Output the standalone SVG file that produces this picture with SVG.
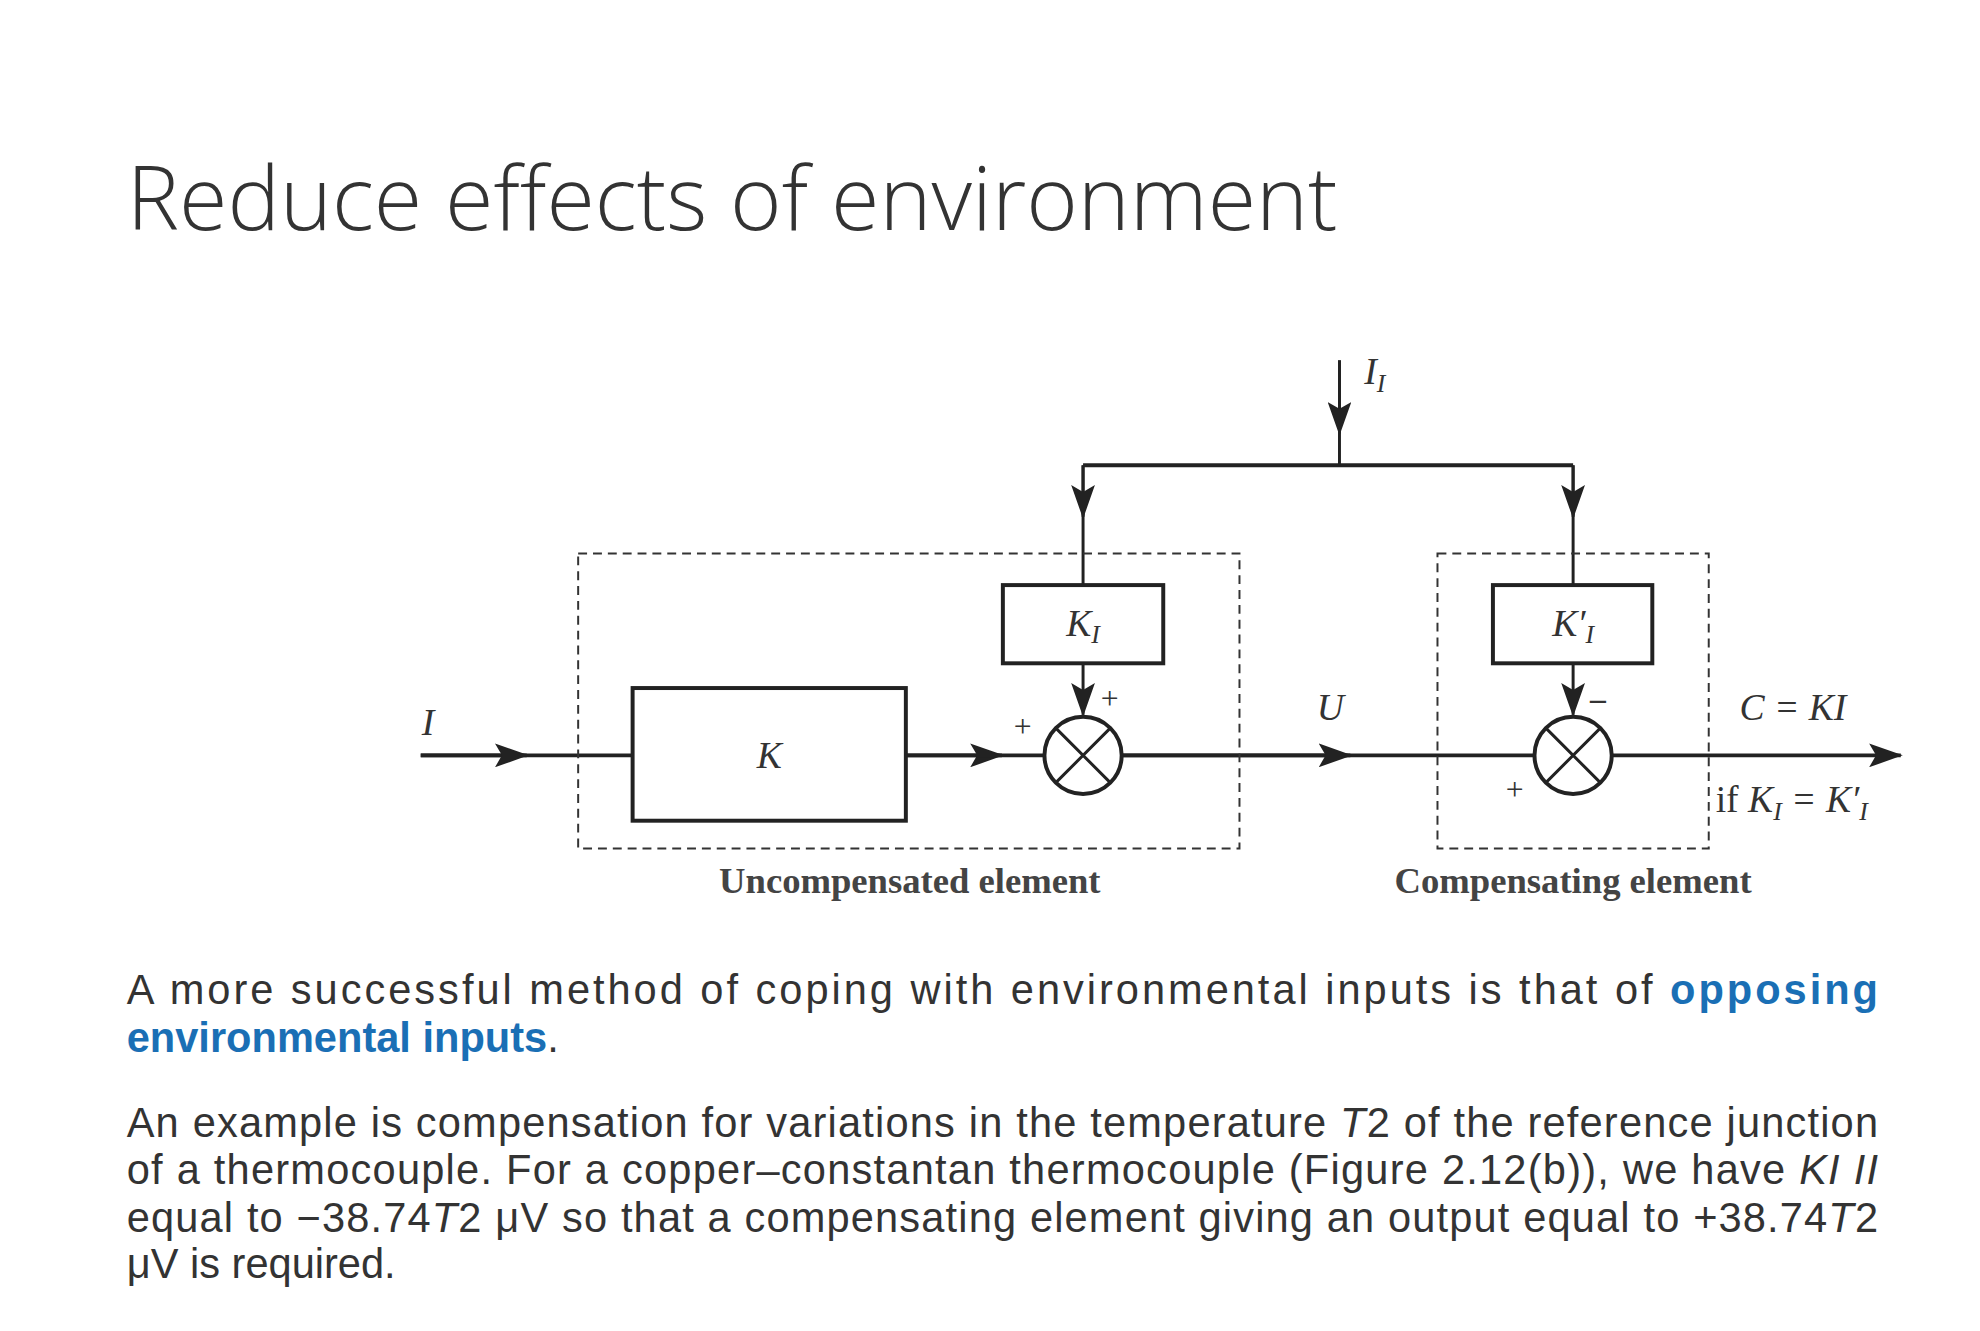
<svg xmlns="http://www.w3.org/2000/svg" width="1980" height="1331" viewBox="0 0 1980 1331">
<style>
.ln{stroke:#222;stroke-width:4;fill:none}
.th{stroke:#222;stroke-width:3;fill:none}
.box{stroke:#222;stroke-width:4;fill:#fff}
.dash{stroke:#333;stroke-width:2;fill:none;stroke-dasharray:9 6}
.it{font-family:"Liberation Serif",serif;font-style:italic;font-size:38px;fill:#333}
.sg{font-family:"Liberation Serif",serif;font-size:32px;fill:#333}
.cap{font-family:"Liberation Serif",serif;font-weight:bold;font-size:37px;fill:#444}
.p{font-family:"Liberation Sans",Arial,sans-serif;font-size:42px;fill:#333}
</style>
<defs>
<marker id="ab" markerWidth="34" markerHeight="24" refX="32" refY="12" orient="auto" markerUnits="userSpaceOnUse" viewBox="0 0 34 24"><path d="M0,0 L34,12 L0,24 L7,12 Z" fill="#222"/></marker>
</defs>
<rect width="1980" height="1331" fill="#fff"/>
<g transform="scale(0.99)">
<text x="128" y="232" font-family="Open Sans, sans-serif" font-weight="300" font-size="89" fill="#333">Reduce effects of environment</text>

<g id="connectors">
<path class="ln" d="M425,763 H639"/>
<path class="ln" d="M425,763 H532" marker-end="url(#ab)"/>
<path class="ln" d="M915,763 H1012" marker-end="url(#ab)"/>
<path class="ln" d="M915,763 H1054"/>
<path class="ln" d="M1134,763 H1549"/>
<path class="ln" d="M1134,763 H1364" marker-end="url(#ab)"/>
<path class="ln" d="M1629,763 H1920" marker-end="url(#ab)"/>
<path class="ln" d="M1094,470 H1589"/>
<path class="th" d="M1353,364 V470"/>
<path class="th" d="M1353,364 V438" marker-end="url(#ab)"/>
<path class="th" d="M1094,470 V591"/>
<path class="th" d="M1094,470 V522" marker-end="url(#ab)"/>
<path class="th" d="M1589,470 V591"/>
<path class="th" d="M1589,470 V522" marker-end="url(#ab)"/>
<path class="th" d="M1094,670 V722" marker-end="url(#ab)"/>
<path class="th" d="M1589,670 V722" marker-end="url(#ab)"/>
</g>

<g id="uncompensated"><rect class="dash" x="584" y="559" width="668" height="298"/><text class="cap" x="919" y="902" text-anchor="middle">Uncompensated element</text></g>
<g id="compensating"><rect class="dash" x="1452" y="559" width="274" height="298"/><text class="cap" x="1589" y="902" text-anchor="middle">Compensating element</text></g>

<g id="K"><rect class="box" x="639" y="695" width="276" height="134"/><text class="it" x="777" y="776" text-anchor="middle">K</text></g>
<g id="KI"><rect class="box" x="1013" y="591" width="162" height="79"/><text class="it" x="1094" y="642" text-anchor="middle">K<tspan font-size="26" dy="8">I</tspan></text></g>
<g id="KI2"><rect class="box" x="1508" y="591" width="161" height="79"/><text class="it" x="1589" y="642" text-anchor="middle">K′<tspan font-size="26" dy="8">I</tspan></text></g>
<g id="sum1"><circle class="box" cx="1094" cy="763" r="39"/><path class="th" d="M1066,735 L1122,791 M1122,735 L1066,791"/></g>
<g id="sum2"><circle class="box" cx="1589" cy="763" r="39"/><path class="th" d="M1561,735 L1617,791 M1617,735 L1561,791"/></g>

<g id="labels">
<text class="it" x="426" y="742">I</text>
<text class="it" x="1378" y="388">I<tspan font-size="26" dy="8">I</tspan></text>
<text class="it" x="1330" y="727">U</text>
<text class="sg" x="1112" y="716">+</text>
<text class="sg" x="1024" y="744">+</text>
<text class="sg" x="1606" y="716" font-weight="bold">–</text>
<text class="sg" x="1521" y="808">+</text>
<text class="it" x="1757" y="727">C = KI</text>
<text class="it" x="1733" y="820"><tspan font-style="normal">if</tspan> K<tspan font-size="26" dy="8">I</tspan><tspan dy="-8"> = K′</tspan><tspan font-size="26" dy="8">I</tspan></text>
</g>

<g id="text">
<text class="p" x="128" y="1014" textLength="1769" lengthAdjust="spacing">A more successful method of coping with environmental inputs is that of <tspan font-weight="bold" fill="#1a6fb5">opposing</tspan></text>
<text class="p" x="128" y="1063"><tspan font-weight="bold" fill="#1a6fb5">environmental inputs</tspan>.</text>
<text class="p" x="128" y="1148" textLength="1769" lengthAdjust="spacing">An example is compensation for variations in the temperature <tspan font-style="italic">T</tspan>2 of the reference junction</text>
<text class="p" x="128" y="1196" textLength="1769" lengthAdjust="spacing">of a thermocouple. For a copper–constantan thermocouple (Figure 2.12(b)), we have <tspan font-style="italic">KI II</tspan></text>
<text class="p" x="128" y="1244" textLength="1769" lengthAdjust="spacing">equal to −38.74<tspan font-style="italic">T</tspan>2 μV so that a compensating element giving an output equal to +38.74<tspan font-style="italic">T</tspan>2</text>
<text class="p" x="128" y="1291">μV is required.</text>
</g>
</g>
</svg>
